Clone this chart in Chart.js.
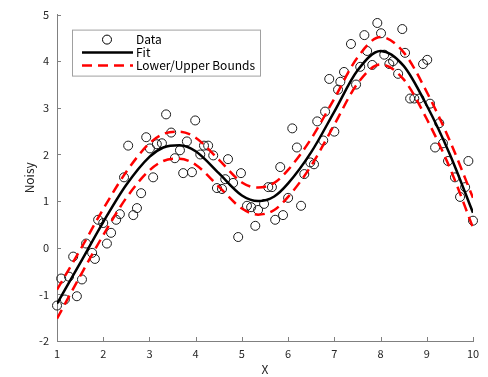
<!DOCTYPE html>
<html>
<head>
<meta charset="utf-8">
<script src="https://cdn.jsdelivr.net/npm/chart.js@4"></script>
<style>
html, body { margin: 0; padding: 0; background: #fff; }
#wrap { width: 488px; height: 377px; }
</style>
</head>
<body>
<div id="wrap"><canvas id="myChart"></canvas></div>
<script>
const dataX = [1.0, 1.09, 1.17, 1.26, 1.35, 1.43, 1.54, 1.63, 1.76, 1.82, 1.89, 2.0, 2.08, 2.17, 2.28, 2.36, 2.45, 2.54, 2.65, 2.73,
    2.82, 2.93, 3.01, 3.08, 3.16, 3.27, 3.36, 3.47, 3.55, 3.66, 3.73, 3.81, 3.92, 3.99, 4.10, 4.18, 4.27, 4.38, 4.46, 4.57,
    4.64, 4.70, 4.81, 4.92, 4.98, 5.11, 5.20, 5.29, 5.35, 5.48, 5.57, 5.65, 5.72, 5.83, 5.89, 6.0, 6.09, 6.19, 6.28, 6.35,
    6.48, 6.56, 6.63, 6.76, 6.80, 6.89, 7.0, 7.08, 7.13, 7.21, 7.36, 7.47, 7.56, 7.65, 7.71, 7.82, 7.93, 8.01, 8.08, 8.19,
    8.27, 8.38, 8.47, 8.53, 8.64, 8.73, 8.84, 8.92, 9.01, 9.07, 9.18, 9.27, 9.35, 9.46, 9.61, 9.72, 9.83, 9.90, 10.0];
const dataY = [-1.24, -0.66, -1.11, -0.62, -0.19, -1.04, -0.68, 0.09, -0.11, -0.24, 0.60, 0.53, 0.09, 0.32, 0.60, 0.72, 1.51, 2.19, 0.70, 0.85,
    1.17, 2.37, 2.13, 1.51, 2.22, 2.24, 2.86, 2.47, 1.92, 2.09, 1.60, 2.28, 1.62, 2.73, 2.00, 2.19, 2.19, 1.98, 1.28, 1.26,
    1.47, 1.90, 1.39, 0.23, 1.60, 0.90, 0.87, 0.47, 0.81, 0.94, 1.30, 1.30, 0.60, 1.73, 0.70, 1.07, 2.56, 2.15, 0.90, 1.58,
    1.83, 1.79, 2.71, 2.30, 2.92, 3.62, 2.49, 3.39, 3.56, 3.77, 4.37, 3.50, 3.88, 4.56, 4.22, 3.92, 4.82, 4.60, 4.14, 3.94,
    4.00, 3.73, 4.69, 4.18, 3.20, 3.20, 3.20, 3.94, 4.03, 3.09, 2.15, 2.67, 2.24, 1.86, 1.51, 1.09, 1.30, 1.86, 0.58];

const fitX = [1, 1.5, 2, 2.5, 3, 3.3, 3.65, 4, 4.5, 5, 5.35, 5.7, 6, 6.5, 7, 7.5, 8, 8.5, 9, 9.5, 10];
const fitY = [-1.2, -0.33, 0.55, 1.35, 1.95, 2.15, 2.2, 2.07, 1.6, 1.12, 1.0, 1.1, 1.38, 2.05, 2.92, 3.8, 4.22, 3.9, 3.05, 2.0, 0.75];
const upperY = [-0.9, -0.05, 0.83, 1.63, 2.24, 2.44, 2.49, 2.36, 1.89, 1.4, 1.29, 1.39, 1.67, 2.34, 3.2, 4.08, 4.52, 4.19, 3.34, 2.29, 1.07];
const lowerY = [-1.52, -0.61, 0.27, 1.07, 1.66, 1.86, 1.91, 1.78, 1.31, 0.84, 0.71, 0.81, 1.09, 1.76, 2.64, 3.52, 3.93, 3.61, 2.76, 1.71, 0.43];

const xTicks = [1, 2, 3, 4, 5, 6, 7, 8, 9, 10];
const yTicks = [-2, -1, 0, 1, 2, 3, 4, 5];

const axisColor = '#808080';
const textColor = '#262626';
const fontFamily = "'Noto Sans CJK JP', 'DejaVu Sans', sans-serif";

function toPoints(xs, ys) {
    return xs.map((x, i) => ({x: x, y: ys[i]}));
}

// ticks point into the plot, like the original
const innerTicks = {
    id: 'innerTicks',
    afterDraw(chart) {
        const ctx = chart.ctx;
        const xs = chart.scales.x;
        const ys = chart.scales.y;
        ctx.save();
        ctx.strokeStyle = axisColor;
        ctx.lineWidth = 1;
        ctx.beginPath();
        xTicks.forEach(v => {
            const px = Math.round(xs.getPixelForValue(v)) + 0.5;
            ctx.moveTo(px, ys.bottom);
            ctx.lineTo(px, ys.bottom - 4);
        });
        yTicks.forEach(v => {
            const py = Math.round(ys.getPixelForValue(v)) + 0.5;
            ctx.moveTo(xs.left, py);
            ctx.lineTo(xs.left + 4, py);
        });
        ctx.stroke();
        ctx.restore();
    }
};

const boxLegend = {
    id: 'boxLegend',
    afterDraw(chart) {
        const ctx = chart.ctx;
        const a = chart.chartArea;
        const left = a.left + 15, top = a.top + 15, w = 188, h = 46;
        ctx.save();
        ctx.fillStyle = '#fff';
        ctx.fillRect(left, top, w, h);
        ctx.strokeStyle = '#a0a0a0';
        ctx.lineWidth = 1;
        ctx.strokeRect(left + 0.5, top + 0.5, w, h);

        const rows = [top + 10, top + 23, top + 36];
        // Data
        ctx.strokeStyle = '#000';
        ctx.beginPath();
        ctx.arc(left + 35, rows[0], 4.5, 0, Math.PI * 2);
        ctx.stroke();
        // Fit
        ctx.lineWidth = 2.5;
        ctx.beginPath();
        ctx.moveTo(left + 10, rows[1]);
        ctx.lineTo(left + 61, rows[1]);
        ctx.stroke();
        // Bounds
        ctx.strokeStyle = '#ff0000';
        ctx.setLineDash([10, 6]);
        ctx.beginPath();
        ctx.moveTo(left + 10, rows[2]);
        ctx.lineTo(left + 61, rows[2]);
        ctx.stroke();
        ctx.setLineDash([]);

        ctx.fillStyle = '#000';
        ctx.font = '12px ' + fontFamily;
        ctx.textBaseline = 'middle';
        ctx.fillText('Data', left + 64, rows[0]);
        ctx.fillText('Fit', left + 64, rows[1]);
        ctx.fillText('Lower/Upper Bounds', left + 64, rows[2]);
        ctx.restore();
    }
};

const data = {
    datasets: [
        {
            label: 'Data',
            data: toPoints(dataX, dataY),
            showLine: false,
            clip: false,
            pointRadius: 4.5,
            pointBorderWidth: 1,
            pointBorderColor: '#1a1a1a',
            pointBackgroundColor: 'rgba(0,0,0,0)',
            order: 3
        },
        {
            label: 'Fit',
            data: toPoints(fitX, fitY),
            showLine: true,
            borderColor: '#000',
            borderWidth: 2.5,
            pointRadius: 0,
            cubicInterpolationMode: 'monotone',
            order: 1
        },
        {
            label: 'Lower/Upper Bounds',
            data: toPoints(fitX, upperY),
            showLine: true,
            borderColor: '#ff0000',
            borderWidth: 2.5,
            borderDash: [10, 6],
            pointRadius: 0,
            cubicInterpolationMode: 'monotone',
            order: 2
        },
        {
            label: 'Lower',
            data: toPoints(fitX, lowerY),
            showLine: true,
            borderColor: '#ff0000',
            borderWidth: 2.5,
            borderDash: [10, 6],
            pointRadius: 0,
            cubicInterpolationMode: 'monotone',
            order: 2
        }
    ]
};

const config = {
    type: 'scatter',
    data: data,
    options: {
        responsive: true,
        maintainAspectRatio: false,
        animation: false,
        layout: {
            padding: {left: 0, right: 15, top: 13, bottom: 0}
        },
        plugins: {
            legend: {display: false},
            tooltip: {enabled: false}
        },
        scales: {
            x: {
                type: 'linear',
                min: 1,
                max: 10,
                afterFit(scale) { scale.height = 36; },
                afterBuildTicks(scale) { scale.ticks = xTicks.map(v => ({value: v})); },
                grid: {display: false, drawTicks: false},
                border: {display: true, color: axisColor, width: 1},
                ticks: {color: textColor, padding: 6, font: {family: fontFamily, size: 11}},
                title: {display: true, text: 'X', color: textColor, padding: 0, font: {family: fontFamily, size: 12}}
            },
            y: {
                type: 'linear',
                min: -2,
                max: 5,
                afterFit(scale) { scale.width = 57; },
                afterBuildTicks(scale) { scale.ticks = yTicks.map(v => ({value: v})); },
                grid: {display: false, drawTicks: false},
                border: {display: true, color: axisColor, width: 1},
                ticks: {color: textColor, padding: 8, font: {family: fontFamily, size: 11}},
                title: {display: true, text: 'Noisy', color: textColor, padding: {top: 22, bottom: 0}, font: {family: fontFamily, size: 12}}
            }
        }
    },
    plugins: [innerTicks, boxLegend]
};

const myChart = new Chart(
    document.getElementById('myChart'),
    config
);
</script>
</body>
</html>
